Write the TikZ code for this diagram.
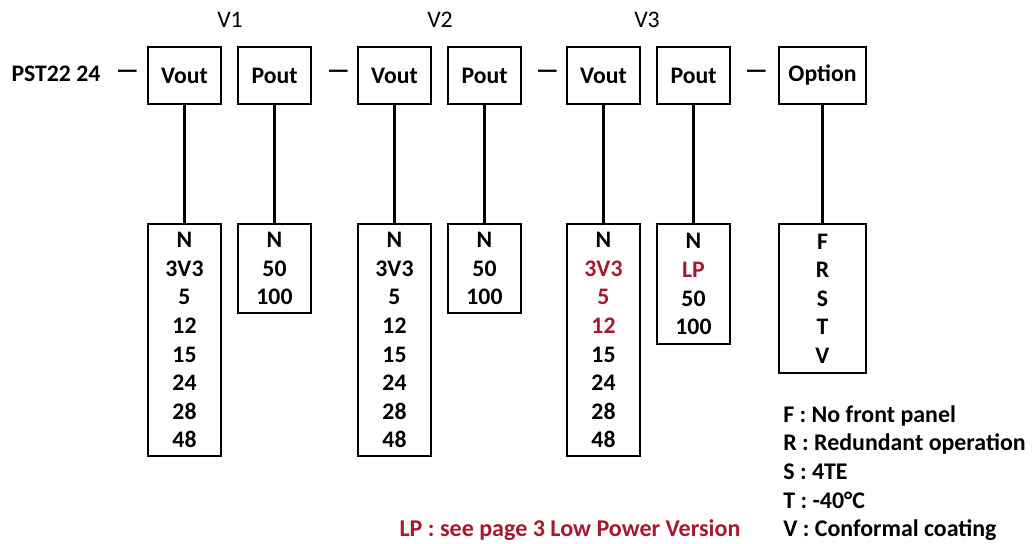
\documentclass[tikz,border=0pt]{standalone}
\usepackage{fontspec}
\setmainfont{Carlito}
\definecolor{LPRED}{HTML}{A6192E}
\usetikzlibrary{positioning}

\begin{document}
\begin{tikzpicture}[x=0.02cm, y=-0.02cm,
  %% Top-row field boxes
  tbox/.style={
    draw, line width=1.3pt, rectangle,
    minimum width=1.46cm, minimum height=1.14cm,
    font=\fontsize{13.5}{16}\selectfont\bfseries, inner sep=2pt
  },
  %% Value-list boxes (hang from their top edge)
  lbox/.style={
    draw, line width=1.3pt, rectangle, anchor=north,
    minimum width=1.46cm, align=center,
    font=\fontsize{13.5}{16.3}\selectfont\bfseries, inner sep=2pt
  },
  conn/.style={line width=1.3pt},
  vlab/.style={font=\fontsize{13.5}{16}\selectfont},
  dsh/.style={font=\fontsize{14.5}{16}\selectfont\bfseries, inner sep=0pt}
]
\useasboundingbox (0,0) rectangle (1036,544);

%% ── Part number and field boxes ─────────────────────────────
\node[font=\fontsize{13.5}{16}\selectfont\bfseries] (pst) at (56,74) {PST22 24};
\node[dsh] (d1) at (127.5,74) {—};
\node[tbox] (vo1) at (184.5,75.5) {Vout};
\node[tbox] (po1) at (274.5,75.5) {Pout};
\node[dsh] (d2) at (338.5,74) {—};
\node[tbox] (vo2) at (394.5,75.5) {Vout};
\node[tbox] (po2) at (484.5,75.5) {Pout};
\node[dsh] (d3) at (547.5,74) {—};
\node[tbox] (vo3) at (603.5,75.5) {Vout};
\node[tbox] (po3) at (693.5,75.5) {Pout};
\node[dsh] (d4) at (756.5,74) {—};
\node[tbox, minimum width=1.74cm] (opt) at (822.5,75.5) {Option};

%% ── Group labels ────────────────────────────────────────────
\node[vlab] (v1) at (230,20) {V1};
\node[vlab] (v2) at (440,20) {V2};
\node[vlab] (v3) at (647,20) {V3};

%% ── Value lists ─────────────────────────────────────────────
\node[lbox, minimum height=4.64cm] (vl1) at (184.5,223)
  {N\\3V3\\5\\12\\15\\24\\28\\48};
\node[lbox, minimum height=1.78cm] (pl1) at (274.5,223)
  {N\\50\\100};
\node[lbox, minimum height=4.64cm] (vl2) at (394.5,223)
  {N\\3V3\\5\\12\\15\\24\\28\\48};
\node[lbox, minimum height=1.78cm] (pl2) at (484.5,223)
  {N\\50\\100};
\node[lbox, minimum height=4.64cm] (vl3) at (603.5,223)
  {N\\\textcolor{LPRED}{3V3}\\\textcolor{LPRED}{5}\\\textcolor{LPRED}{12}\\15\\24\\28\\48};
\node[lbox, minimum height=2.40cm] (pl3) at (693.5,223)
  {N\\\textcolor{LPRED}{LP}\\50\\100};
\node[lbox, minimum width=1.74cm, minimum height=2.98cm] (ol) at (822.5,223)
  {F\\R\\S\\T\\V};

\draw[conn] (vo1) -- (vl1);
\draw[conn] (po1) -- (pl1);
\draw[conn] (vo2) -- (vl2);
\draw[conn] (po2) -- (pl2);
\draw[conn] (vo3) -- (vl3);
\draw[conn] (po3) -- (pl3);
\draw[conn] (opt) -- (ol);

%% ── Notes ───────────────────────────────────────────────────
\node[anchor=north west, align=left, inner sep=0pt,
  font=\fontsize{13.6}{16.3}\selectfont\bfseries] (leg) at (783,405)
  {F : No front panel\\R : Redundant operation\\S : 4TE\\T : -40°C\\V : Conformal coating};
\node[font=\fontsize{13.7}{16}\selectfont\bfseries, text=LPRED] (lp) at (570,530)
  {LP : see page 3 Low Power Version};

\end{tikzpicture}
\end{document}
